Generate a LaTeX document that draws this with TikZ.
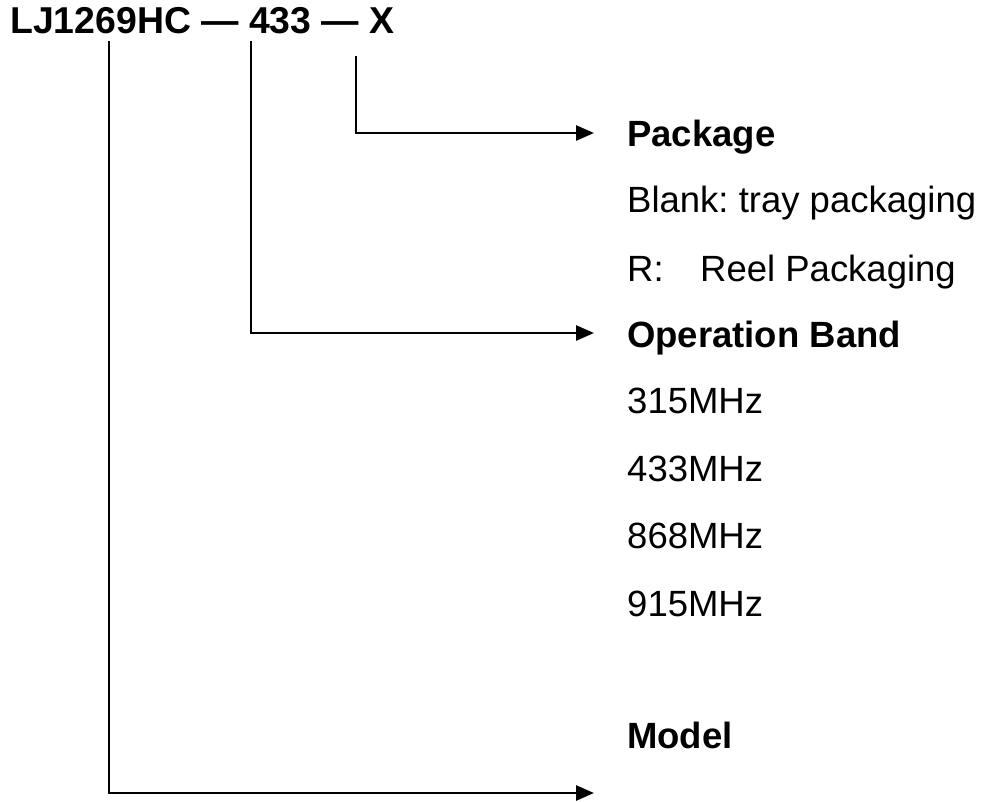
\documentclass[tikz,border=0pt]{standalone}
\usepackage{fontspec}
\setmainfont{Liberation Sans}
\usetikzlibrary{arrows.meta}
\frenchspacing
\begin{document}
\begin{tikzpicture}[x=1pt,y=-1pt,
  lbl/.style={anchor=base west,inner sep=0pt,font=\fontsize{36.5}{40}\selectfont},
  hdr/.style={lbl,font=\fontsize{36.5}{40}\selectfont\bfseries},
  conn/.style={line width=2.8pt,-{Triangle[length=18pt,width=15pt]}}]
\useasboundingbox (0,0) rectangle (991,801);
% title
\node[hdr,font=\fontsize{37.4}{40}\selectfont\bfseries] (title) at (10,33) {LJ1269HC \textemdash{} 433 \textemdash{} X};
\coordinate (t1) at (109,41);
\coordinate (t2) at (251,41);
\coordinate (t3) at (356,56);
% labels
\node[hdr] (pkg) at (627,146) {Package};
\node[lbl] (blank) at (627,212) {Blank: tray packaging};
\node[lbl] (reel) at (627,281) {\makebox[73pt][l]{R:}Reel Packaging};
\node[hdr] (band) at (627,347) {Operation Band};
\node[lbl] (f1) at (627,413) {315MHz};
\node[lbl] (f2) at (627,481) {433MHz};
\node[lbl] (f3) at (627,548) {868MHz};
\node[lbl] (f4) at (627,616) {915MHz};
\node[hdr] (model) at (627,748) {Model};
% arrow ends
\coordinate (e1) at (594,133);
\coordinate (e2) at (594,333);
\coordinate (e3) at (594,793);
\draw[conn] (t3) |- (e1);
\draw[conn] (t2) |- (e2);
\draw[conn] (t1) |- (e3);
\end{tikzpicture}
\end{document}
